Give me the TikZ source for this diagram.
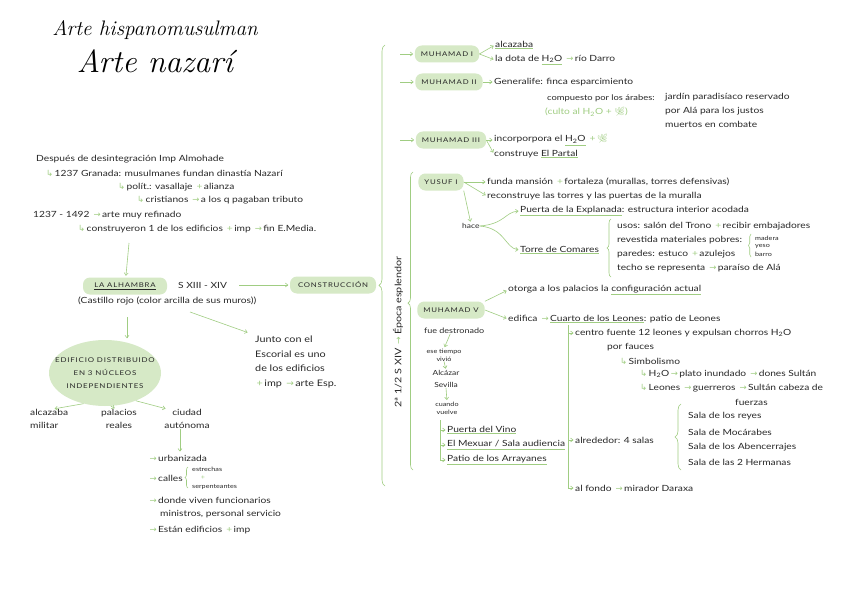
\documentclass[tikz,border=0pt]{standalone}
\usepackage{fontspec}
\usetikzlibrary{arrows.meta,shapes.geometric,decorations.pathreplacing}
\newfontfamily\hand[FakeStretch=1.2]{Lato}
\newfontfamily\sym{DejaVu Sans}
\newfontfamily\emo{Noto Emoji}
\definecolor{lg}{RGB}{214,233,198}
\definecolor{gl}{RGB}{160,205,130}
\definecolor{ink}{RGB}{40,40,40}
\newcommand{\ga}{{\sym\color{gl}\,→\,}}
\newcommand{\gh}{{\sym\color{gl}↳\,}}
\newcommand{\gp}{{\color{gl}\,+\,}}
\newcommand{\gu}[1]{{\color{gl}\underline{\color{ink}#1}}}
\newcommand{\water}{H\textsubscript{2}O}
\newcommand{\herb}{{\emo\color{gl}🌿}}
\tikzset{
 txt/.style={anchor=west, inner sep=0pt, text=ink, font=\hand\fontsize{8.5}{9}\selectfont},
 sm/.style={inner sep=0pt, text=ink, align=center, font=\hand\fontsize{6}{8}\selectfont},
 pill/.style={fill=lg, rounded corners=7pt, minimum height=17pt, inner xsep=6pt, inner ysep=0pt, text=ink, font=\hand\fontsize{6.5}{7}\selectfont\addfontfeature{LetterSpace=12}},
 arr/.style={draw=gl, line width=0.6pt, shorten >=1.5pt, -{Straight Barb[length=2.5pt,width=4pt]}},
 ln/.style={draw=gl, line width=0.6pt},
 br/.style={draw=gl, line width=0.6pt, decorate, decoration={brace, amplitude=#1}},
 br/.default=5pt
}
\begin{document}
\begin{tikzpicture}[x=1pt,y=-1pt]
\fill[white] (0,0) rectangle (848,599);
\useasboundingbox (0,0) rectangle (848,599);

% title
\node[inner sep=0pt, font=\rmfamily\itshape\fontsize{21}{22}\selectfont] (t1) at (155,30) {Arte hispanomusulman};
\node[inner sep=0pt, font=\rmfamily\itshape\fontsize{32}{34}\selectfont] (t2) at (155,61) {Arte nazarí};

% left intro
\node[txt] (l1) at (36,159) {Después de desintegración Imp Almohade};
\node[txt] (l2) at (46,173) {\gh 1237 Granada: musulmanes fundan dinastía Nazarí};
\node[txt] (l3) at (118,187) {\gh polít.: vasallaje \gp alianza};
\node[txt] (l4) at (137,200) {\gh cristianos \ga a los q pagaban tributo};
\node[txt] (l5) at (33,215) {1237 - 1492 \ga arte muy refinado};
\node[txt] (l6) at (78,229) {\gh construyeron 1 de los edificios \gp imp \ga fin E.Media.};
\coordinate (c0) at (129,243);

% Alhambra
\node[pill, minimum width=84pt] (alh) at (125,286) {\underline{LA ALHAMBRA}};
\draw[arr] (c0) -- (alh);
\node[txt] (sx) at (178,285) {S XIII - XIV};
\node[pill, minimum width=86pt] (cons) at (333,285) {CONSTRUCCIÓN};
\draw[arr] ([xshift=12pt]sx.east) -- (cons.west);
\node[txt] (cast) at (78,301) {(Castillo rojo (color arcilla de sus muros))};
\coordinate (c1) at (127,317);
\coordinate (c2) at (190,312);
\node[ellipse, fill=lg, minimum width=112pt, minimum height=66pt, inner sep=0pt] (ell) at (105,373) {};
\node[inner sep=0pt, align=center, text=ink, font=\hand\fontsize{6.6}{13}\selectfont\addfontfeature{LetterSpace=12}] (ellt) at (ell.center) {EDIFICIO DISTRIBUIDO\\EN 3 NÚCLEOS\\INDEPENDIENTES};
\draw[arr] (c1) -- (ell.north -| c1);
\node[txt, anchor=north west, align=left, font=\hand\fontsize{9}{14.5}\selectfont] (junto) at (255,336) {Junto con el\\Escorial es uno\\de los edificios\\\gp imp \ga arte Esp.};
\draw[arr] (c2) -- ([xshift=-6pt,yshift=3pt]junto.north west);

\node[txt, anchor=north west, align=left, font=\hand\fontsize{8.5}{13}\selectfont] (mil) at (30,409) {alcazaba\\militar};
\node[txt, anchor=north, align=center, font=\hand\fontsize{8.5}{13}\selectfont] (pal) at (119,409) {palacios\\reales};
\node[txt, anchor=north, align=center, font=\hand\fontsize{8.5}{13}\selectfont] (ciu) at (187,409) {ciudad\\autónoma};
\draw[arr] (ell.235) -- ([xshift=4pt]mil.north);
\draw[arr] (ell.280) -- ([xshift=-3pt]pal.north);
\draw[arr] (ell.318) -- ([xshift=-20pt]ciu.north);
\coordinate (c3) at (180,453);
\draw[arr] ([xshift=-7pt]ciu.south) -- (c3);
\node[txt] (u1) at (148,458) {\ga urbanizada};
\node[txt] (u2) at (148,478) {\ga calles};
\draw[br=3pt] (188,488) -- (188,467);
\node[sm, anchor=west] (e1) at (192,469) {estrechas};
\node[sm, text=gl] (e2) at (203,478) {+};
\node[sm, anchor=west] (e3) at (192,487) {serpenteantes};
\node[txt] (u3) at (148,500) {\ga donde viven funcionarios};
\node[txt] (u3b) at (160,514) {ministros, personal servicio};
\node[txt] (u4) at (148,530) {\ga Están edificios \gp imp};

% big braces
\draw[br=6pt, decoration={aspect=0.455}] (385,486) -- (385,45);
\draw[br=5pt, decoration={aspect=0.56}] (413,470) -- (413,172);
\node[txt, anchor=center, rotate=90, font=\hand\fontsize{9}{9}\selectfont] (ep) at (398,332) {2ª 1/2 S XIV \ga Época esplendor};

% Muhamad I
\coordinate (a1) at (400,54);
\node[pill] (m1) at (447,54) {MUHAMAD I};
\draw[arr] (a1) -- (m1.west);
\node[txt] (m1a) at (495,45) {\gu{alcazaba}};
\node[txt] (m1b) at (495,60) {la dota de \gu{\water} \ga río Darro};
\draw[arr] (m1.east) -- (m1a.west);
\draw[arr] (m1.east) -- (m1b.west);

% Muhamad II
\coordinate (a2) at (400,82);
\node[pill] (m2) at (449,82) {MUHAMAD II};
\draw[arr] (a2) -- (m2.west);
\node[txt] (m2a) at (494,82) {Generalife: finca esparcimiento};
\draw[arr] (m2.east) -- (m2a.west);
\node[txt, font=\hand\fontsize{7.8}{9}\selectfont] (m2b) at (547,98) {compuesto por los árabes:};
\node[txt, anchor=north west, align=left, font=\hand\fontsize{8.5}{14}\selectfont] (m2c) at (665,93) {jardín paradisíaco reservado\\por Alá para los justos\\muertos en combate};
\node[txt, text=gl] (m2d) at (545,112) {(culto al \water\ + \herb)};

% Muhamad III
\coordinate (a3) at (400,140);
\node[pill] (m3) at (451,140) {MUHAMAD III};
\draw[arr] (a3) -- (m3.west);
\node[txt] (m3a) at (494,140) {incorporpora el \gu{\water} \gp\herb};
\node[txt] (m3b) at (494,154) {construye \gu{El Partal}};
\draw[arr] (m3.east) -- (m3a.west);
\draw[arr] (m3.east) -- (m3b.west);

% Yusuf I
\node[pill] (y1) at (441,182) {YUSUF I};
\node[txt] (y1a) at (487,182) {funda mansión \gp fortaleza (murallas, torres defensivas)};
\node[txt] (y1b) at (487,196) {reconstruye las torres y las puertas de la muralla};
\draw[arr] (y1.east) -- (y1a.west);
\draw[arr] (y1.east) -- (y1b.west);
\node[txt, font=\hand\fontsize{7}{8}\selectfont] (hace) at (462,226) {hace};
\draw[arr] (y1.south east) -- (hace.north);
\node[txt] (pe) at (520,211) {\gu{Puerta de la Explanada}: estructura interior acodada};
\node[txt] (tc) at (520,250) {\gu{Torre de Comares}};
\draw[arr] (hace.east) .. controls (505,224) and (505,212) .. (pe.west);
\draw[arr] (hace.east) .. controls (505,228) and (505,248) .. (tc.west);
\draw[br=4pt] (611,277) -- (611,219);
\node[txt] (tc1) at (617,226) {usos: salón del Trono \gp recibir embajadores};
\node[txt] (tc2) at (617,240) {revestida materiales pobres:};
\node[txt] (tc3) at (617,254) {paredes: estuco \gp azulejos};
\node[txt] (tc4) at (617,268) {techo se representa \ga paraíso de Alá};
\draw[br=2.5pt] (751,257) -- (751,234);
\node[sm, anchor=west] (w1) at (755,238) {madera};
\node[sm, anchor=west] (w2) at (755,246) {yeso};
\node[sm, anchor=west] (w3) at (755,254) {barro};

% Muhamad V
\node[pill] (m5) at (451,310) {MUHAMAD V};
\node[txt] (m5a) at (508,290) {otorga a los palacios la \gu{configuración actual}};
\node[txt] (m5b) at (508,319) {edifica \ga \gu{Cuarto de los Leones}: patio de Leones};
\draw[arr] (m5.north east) -- (m5a.west);
\draw[arr] (m5.east) -- (m5b.west);
\coordinate (v0) at (568,325);
\coordinate (v1) at (568,488);
\draw[ln] (v0) -- (v1);
\node[txt] (k1) at (575,333) {centro fuente 12 leones y expulsan chorros \water};
\node[txt] (k1b) at (607,347) {por fauces};
\node[txt] (k2) at (620,361) {\gh Simbolismo};
\node[txt] (k3) at (640,374) {\gh\water\ga plato inundado \ga dones Sultán};
\node[txt] (k4) at (640,388) {\gh Leones \ga guerreros \ga Sultán cabeza de};
\node[txt] (k4b) at (735,402) {fuerzas};
\node[txt] (al) at (575,440) {alrededor: 4 salas};
\draw[br=6pt] (681,470) -- (681,404);
\node[txt] (s1) at (688,416) {Sala de los reyes};
\node[txt] (s2) at (688,432) {Sala de Mocárabes};
\node[txt] (s3) at (688,447) {Sala de los Abencerrajes};
\node[txt] (s4) at (688,462) {Sala de las 2 Hermanas};
\node[txt] (fo) at (575,488) {al fondo \ga mirador Daraxa};
\draw[arr] (v0 |- k1) -- (k1.west);
\draw[arr] (v0 |- al) -- (al.west);
\draw[arr] (v0 |- fo) -- (fo.west);

\node[txt, font=\hand\fontsize{7.5}{8}\selectfont] (fd) at (424,331) {fue destronado};
\node[sm] (es) at (444,355) {ese tiempo\\vivió};
\node[sm, font=\hand\fontsize{7}{12}\selectfont] (alc) at (446,379) {Alcázar\\Sevilla};
\node[sm] (cv) at (447,408) {cuando\\vuelve};
\draw[arr] ([xshift=-4pt]fd.south) -- (es.north);
\draw[arr] (es.south) -- (alc.north);
\draw[arr] (alc.south) -- (cv.north);
\coordinate (p0) at (440,420);
\coordinate (p1) at (440,461);
\draw[ln] (p0) -- (p1);
\node[txt] (pv) at (447,430) {\gu{Puerta del Vino}};
\node[txt] (em) at (447,445) {\gu{El Mexuar / Sala audiencia}};
\node[txt] (pa) at (447,460) {\gu{Patio de los Arrayanes}};
\draw[arr] (p0 |- pv) -- (pv.west);
\draw[arr] (p0 |- em) -- (em.west);
\draw[arr] (p0 |- pa) -- (pa.west);
\end{tikzpicture}
\end{document}
